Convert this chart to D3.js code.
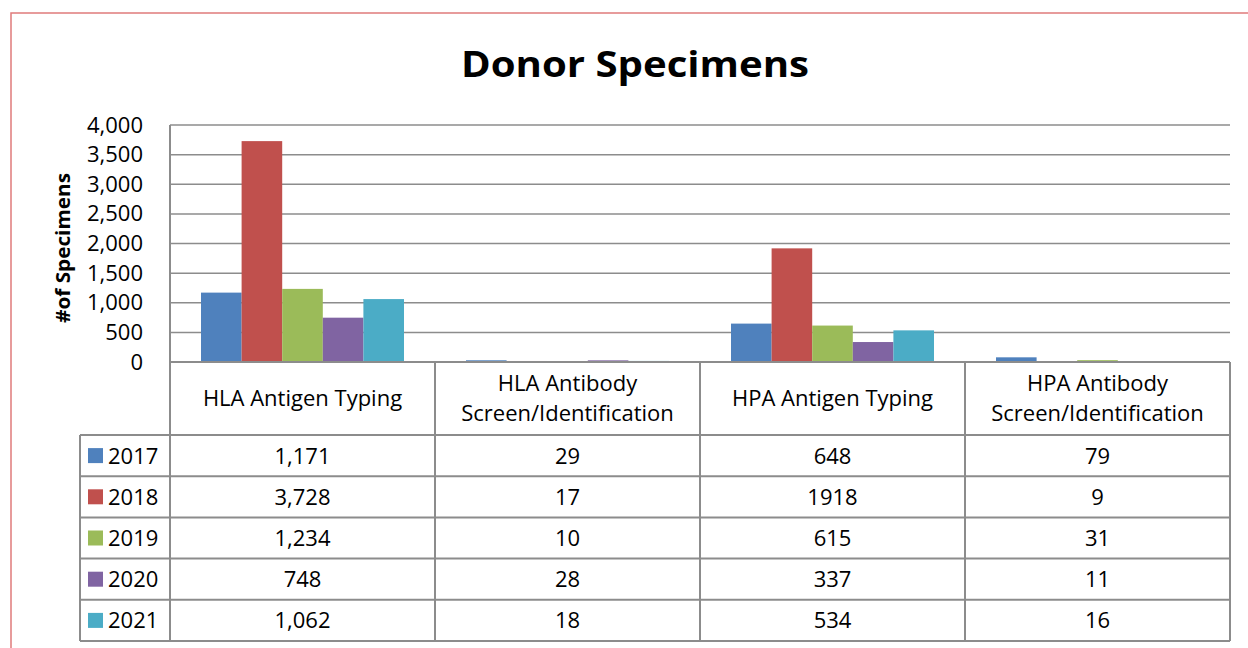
<!DOCTYPE html>
<html>
<head>
<meta charset="utf-8">
<script src="https://cdn.jsdelivr.net/npm/d3@7"></script>
<style>
  body { margin: 0; background: #fff; }
  svg text { font-family: "Open Sans", Lato, sans-serif; fill: #000; }
</style>
</head>
<body>
<div id="chart"></div>
<script>
// data
var categories = ["HLA Antigen Typing", "HLA Antibody Screen/Identification", "HPA Antigen Typing", "HPA Antibody Screen/Identification"];
var categoryLines = [["HLA Antigen Typing"], ["HLA Antibody", "Screen/Identification"], ["HPA Antigen Typing"], ["HPA Antibody", "Screen/Identification"]];
var years = ["2017", "2018", "2019", "2020", "2021"];
var v2017 = [1171, 29, 648, 79];
var v2018 = [3728, 17, 1918, 9];
var v2019 = [1234, 10, 615, 31];
var v2020 = [748, 28, 337, 11];
var v2021 = [1062, 18, 534, 16];
var tableLabels2018 = ["3,728", "17", "1918", "9"];   // as printed in the table
var yTicks = [0, 500, 1000, 1500, 2000, 2500, 3000, 3500, 4000];
var colors = ["#4F81BD", "#C0504D", "#9BBB59", "#8064A2", "#4BACC6"];

var series = [v2017, v2018, v2019, v2020, v2021];

// set the dimensions
var W = 1248, H = 648;
var plot = { left: 170, right: 1230, top: 125, bottom: 362 };
var legendLeft = 80;
var headerBottom = 435;
var rowH = 41.2;
var lineColor = "#8c8c8c";
var fontSize = "22px";

var svg = d3.select("#chart")
    .append("svg")
        .attr("width", W)
        .attr("height", H);

// chart frame
svg.append("rect")
    .attr("x", 11).attr("y", 13)
    .attr("width", W).attr("height", H)
    .attr("fill", "none")
    .attr("stroke", "#e07b7b")
    .attr("stroke-width", 1.5);

// title
svg.append("text")
    .attr("x", 635).attr("y", 77)
    .attr("text-anchor", "middle")
    .attr("textLength", 348)
    .attr("lengthAdjust", "spacingAndGlyphs")
    .style("font-size", "36px")
    .style("font-weight", "bold")
    .text("Donor Specimens");

// scales
var x0 = d3.scaleBand()
    .domain(categories)
    .range([plot.left, plot.right])
    .paddingInner(0)
    .paddingOuter(0);

var groupPad = 31;
var x1 = d3.scaleBand()
    .domain(years)
    .range([groupPad, x0.bandwidth() - groupPad]);

var y = d3.scaleLinear()
    .domain([0, 4000])
    .range([plot.bottom, plot.top]);

// gridlines
svg.append("g")
    .selectAll("line")
    .data(yTicks)
    .enter()
    .append("line")
        .attr("x1", plot.left).attr("x2", plot.right)
        .attr("y1", d => y(d)).attr("y2", d => y(d))
        .attr("stroke", lineColor)
        .attr("stroke-width", 1.5);

// y axis labels
var yAxis = d3.axisLeft(y)
    .tickValues(yTicks)
    .tickSize(0)
    .tickPadding(27)
    .tickFormat(d3.format(","));

svg.append("g")
    .attr("transform", `translate(${plot.left},0)`)
    .call(yAxis)
    .call(g => g.select(".domain").remove())
    .selectAll("text")
        .style("font-size", fontSize)
        .style("font-family", "'Open Sans', Lato, sans-serif");

// y axis title
svg.append("text")
    .attr("transform", "translate(70,248) rotate(-90)")
    .attr("text-anchor", "middle")
    .attr("textLength", 150)
    .attr("lengthAdjust", "spacingAndGlyphs")
    .style("font-size", "20px")
    .style("font-weight", "bold")
    .text("#of Specimens");

// bars
var groups = svg.selectAll("g.cat")
    .data(categories)
    .enter()
    .append("g")
        .attr("class", "cat")
        .attr("transform", d => `translate(${x0(d)},0)`);

groups.selectAll("rect")
    .data((d, i) => years.map((yr, j) => ({ year: yr, value: series[j][i], color: colors[j] })))
    .enter()
    .append("rect")
        .attr("x", d => x1(d.year))
        .attr("width", x1.bandwidth())
        .attr("y", d => y(d.value))
        .attr("height", d => y(0) - y(d.value))
        .attr("fill", d => d.color);

// data table
var tableBottom = headerBottom + rowH * years.length;
var rowY = i => headerBottom + rowH * i;

var tbl = svg.append("g")
    .attr("stroke", lineColor)
    .attr("stroke-width", 2);

// axis / table top line
tbl.append("line")
    .attr("x1", plot.left).attr("x2", plot.right)
    .attr("y1", plot.bottom).attr("y2", plot.bottom);

// vertical lines of category columns
var colEdges = categories.map(c => x0(c)).concat([plot.right]);
tbl.selectAll("line.v")
    .data(colEdges)
    .enter()
    .append("line")
        .attr("class", "v")
        .attr("x1", d => d).attr("x2", d => d)
        .attr("y1", (d, i) => i === 0 ? plot.top : plot.bottom)
        .attr("y2", tableBottom);

// legend column left edge
tbl.append("line")
    .attr("x1", legendLeft).attr("x2", legendLeft)
    .attr("y1", headerBottom).attr("y2", tableBottom);

// horizontal row lines
tbl.selectAll("line.h")
    .data(d3.range(years.length + 1))
    .enter()
    .append("line")
        .attr("class", "h")
        .attr("x1", legendLeft).attr("x2", plot.right)
        .attr("y1", i => rowY(i)).attr("y2", i => rowY(i));

// header labels
var headers = svg.selectAll("text.head")
    .data(categories)
    .enter()
    .append("text")
        .attr("class", "head")
        .attr("text-anchor", "middle")
        .style("font-size", fontSize)
        .attr("x", d => x0(d) + x0.bandwidth() / 2)
        .attr("y", (d, i) => categoryLines[i].length === 1 ? 406 : 391);

headers.selectAll("tspan")
    .data((d, i) => categoryLines[i])
    .enter()
    .append("tspan")
        .attr("x", function () { return d3.select(this.parentNode).attr("x"); })
        .attr("dy", (d, i) => i === 0 ? 0 : 30)
        .text(d => d);

// legend keys
var rows = svg.selectAll("g.row")
    .data(years)
    .enter()
    .append("g")
        .attr("class", "row")
        .attr("transform", (d, i) => `translate(0,${rowY(i)})`);

rows.append("rect")
    .attr("x", 88).attr("y", rowH / 2 - 7.5)
    .attr("width", 15).attr("height", 15)
    .attr("fill", (d, i) => colors[i]);

rows.append("text")
    .attr("x", 108).attr("y", rowH / 2 + 8)
    .style("font-size", fontSize)
    .text(d => d);

// values
var fmt = d3.format(",");
rows.selectAll("text.val")
    .data((d, j) => categories.map((c, i) => ({ cat: c, label: j === 1 ? tableLabels2018[i] : fmt(series[j][i]) })))
    .enter()
    .append("text")
        .attr("class", "val")
        .attr("text-anchor", "middle")
        .attr("x", d => x0(d.cat) + x0.bandwidth() / 2)
        .attr("y", rowH / 2 + 8)
        .style("font-size", fontSize)
        .text(d => d.label);
</script>
</body>
</html>
